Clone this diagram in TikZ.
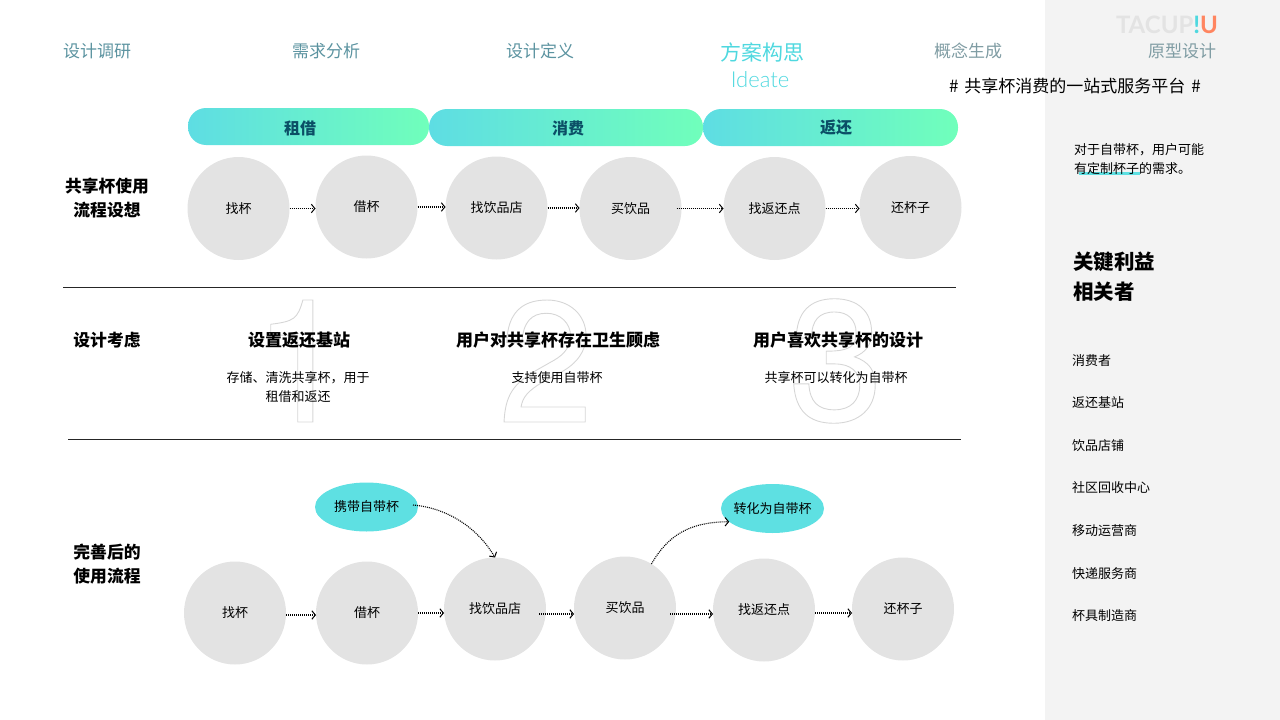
\documentclass[tikz,border=0pt]{standalone}
\usepackage{fontspec}
\setmainfont{Noto Sans CJK SC}
\newfontfamily\latinlight{Lato Light}
\newfontfamily\latinbold{Lato}
\newfontfamily\digitfont{TeX Gyre Heros}
\usetikzlibrary{shapes.geometric,arrows.meta}
\definecolor{cgrey}{HTML}{E3E3E3}
\definecolor{cteal}{HTML}{5EE0E2}
\definecolor{cpanel}{HTML}{F3F3F3}
\definecolor{chead}{HTML}{5B93A0}
\definecolor{chead2}{HTML}{7F9CA3}
\definecolor{cactive}{HTML}{4FD8DF}
\definecolor{cpilltext}{HTML}{0B4F66}
\definecolor{cpilll}{HTML}{5EDDE3}
\definecolor{cpillr}{HTML}{70FFBB}
\definecolor{corange}{HTML}{FF8560}
\newcommand{\fs}[1]{\fontsize{#1}{#1}\selectfont}
\newcommand{\outlinedigit}[1]{\special{pdf:code 1 Tr 0.9 w 0.84 0.84 0.84 RG}#1\special{pdf:code 0 Tr}}
\tikzset{
  every node/.style={inner sep=0pt,outer sep=0pt},
  stepcirc/.style={ellipse,fill=cgrey,minimum width=102pt,minimum height=103pt,font=\fs{13}},
  tealell/.style={ellipse,fill=cteal,minimum width=103pt,minimum height=49pt,font=\fs{13}},
  pill/.style={rounded corners=18pt,left color=cpilll,right color=cpillr,minimum height=37pt},
  flow/.style={dash pattern=on 1pt off 1pt,line width=1.1pt,black,-{Straight Barb[length=3.5pt,width=8.5pt,line width=1pt]}},
  headlabel/.style={text=chead,font=\fs{17}},
  headlabelb/.style={text=chead2,font=\fs{17}},
  rowlabel/.style={align=center,font=\fontsize{16.8}{24}\selectfont\bfseries},
  subtitle/.style={font=\fs{17}\bfseries},
  body/.style={align=center,font=\fontsize{13}{19}\selectfont},
  listitem/.style={anchor=west,font=\fs{13}},
  rule/.style={line width=.8pt,draw=black!85},
  bigdigit/.style={font=\fontsize{172}{172}\selectfont\digitfont}
}
\begin{document}
\begin{tikzpicture}[x=1pt,y=-1pt]
\useasboundingbox (0,0) rectangle (1280,720);
\fill[cpanel] (1045,0) rectangle (1280,720);

% header
\node[headlabel] (h1) at (97,51) {设计调研};
\node[headlabel] (h2) at (326,51) {需求分析};
\node[headlabel] (h3) at (540,51) {设计定义};
\node[text=cactive,font=\fs{21}] (h4) at (762,52) {方案构思};
\node[text=cactive,font=\fs{22}\latinlight] (h4b) at (760,80) {Ideate};
\node[headlabelb] (h5) at (968,51) {概念生成};
\node[headlabelb] (h6) at (1182,51) {原型设计};
\node[font=\fs{24}\latinbold\bfseries] (logo) at (1167,25) {\textcolor{cgrey}{TACUP}\textcolor{cactive}{!}\textcolor{corange}{U}};
\node[font=\fs{17}] (slogan) at (1075,86) {\#\hspace{6pt}共享杯消费的一站式服务平台\hspace{6pt}\#};

% pills
\node[pill,minimum width=241pt] (p1) at (308.5,126.5) {};
\node[pill,minimum width=274pt] (p2) at (566,127.5) {};
\node[pill,minimum width=255pt] (p3) at (830.5,127.5) {};
\node[text=cpilltext,font=\fs{16}\bfseries] (p1t) at (300,128) {租借};
\node[text=cpilltext,font=\fs{16}\bfseries] (p2t) at (568,128) {消费};
\node[text=cpilltext,font=\fs{16}\bfseries] (p3t) at (836,127) {返还};

% first row
\node[rowlabel] (l1) at (107,198) {共享杯使用\\流程设想};
\node[stepcirc] (a1) at (238.5,208.5) {找杯};
\node[stepcirc] (a2) at (366.5,207) {借杯};
\node[stepcirc] (a3) at (496.5,208) {找饮品店};
\node[stepcirc] (a4) at (630.5,208.5) {买饮品};
\node[stepcirc] (a5) at (774.5,208.5) {找返还点};
\node[stepcirc] (a6) at (910.5,207.5) {还杯子};
\draw[flow] (a1.east) -- (a1.east -| a2.west);
\draw[flow] (a2.east) -- (a2.east -| a3.west);
\draw[flow] (a3.east) -- (a3.east -| a4.west);
\draw[flow] ([xshift=-5pt]a4.east) -- (a4.east -| a5.west);
\draw[flow] (a5.east) -- (a5.east -| a6.west);

% rules
\coordinate (r1a) at (63,287); \coordinate (r1b) at (956,287);
\coordinate (r2a) at (68,439); \coordinate (r2b) at (961,439);
\draw[rule] (r1a) -- (r1b);
\draw[rule] (r2a) -- (r2b);

% considerations
\node[bigdigit] (d1) at (301,361) {\outlinedigit{1}};
\node[bigdigit] (d2) at (546,361) {\outlinedigit{2}};
\node[bigdigit] (d3) at (836,361) {\outlinedigit{3}};
\node[rowlabel] (l2) at (107,340) {设计考虑};
\node[subtitle] (s1) at (299,340) {设置返还基站};
\node[subtitle] (s2) at (558,340) {用户对共享杯存在卫生顾虑};
\node[subtitle] (s3) at (838,340) {用户喜欢共享杯的设计};
\node[body] (b1) at (298,387) {存储、清洗共享杯，用于\\租借和返还};
\node[body] (b2) at (557,378) {支持使用自带杯};
\node[body] (b3) at (836,378) {共享杯可以转化为自带杯};

% second row
\node[rowlabel] (l3) at (107,564) {完善后的\\使用流程};
\node[tealell] (t1) at (366.5,507) {\makebox[0pt]{携带自带杯}};
\node[tealell] (t2) at (772.5,508.5) {\makebox[0pt]{转化为自带杯}};
\node[stepcirc] (c1) at (235,613) {找杯};
\node[stepcirc] (c2) at (367,613) {借杯};
\node[stepcirc] (c3) at (495,609) {找饮品店};
\node[stepcirc] (c4) at (625,608) {买饮品};
\node[stepcirc] (c5) at (764,610) {找返还点};
\node[stepcirc] (c6) at (903,609) {还杯子};
\draw[flow] ([yshift=-2pt]c1.east) -- ([yshift=-2pt]c1.east -| c2.west);
\draw[flow] (c2.east) -- (c2.east -| c3.west);
\draw[flow] ([xshift=-7pt,yshift=-5pt]c3.east) -- ([yshift=-5pt]c3.east -| c4.west);
\draw[flow] ([xshift=-6pt,yshift=-6pt]c4.east) -- ([yshift=-6pt]c4.east -| c5.west);
\draw[flow] ([yshift=-3pt]c5.east) -- ([yshift=-3pt]c5.east -| c6.west);
\draw[flow] ([xshift=-5pt,yshift=2pt]t1.east) .. controls (447,508) and (477,527) .. (c3.north);
\draw[flow] (c4.59) .. controls (668,535) and (690,522) .. (t2.197);

% side panel
\fill[cteal] (1079,171.5) rectangle (1140,174.5);
\node[anchor=north west,align=left,font=\fontsize{13}{18.5}\selectfont] (note) at (1074,144) {对于自带杯，用户可能\\有定制杯子的需求。};
\node[anchor=west,align=left,font=\fontsize{20.5}{30}\selectfont\bfseries] (key) at (1073,277) {关键利益\\相关者};
\node[listitem] (i1) at (1072,361) {消费者};
\node[listitem] (i2) at (1072,403) {返还基站};
\node[listitem] (i3) at (1072,446) {饮品店铺};
\node[listitem] (i4) at (1072,488) {社区回收中心};
\node[listitem] (i5) at (1072,531) {移动运营商};
\node[listitem] (i6) at (1072,574) {快递服务商};
\node[listitem] (i7) at (1072,616) {杯具制造商};
\end{tikzpicture}
\end{document}
